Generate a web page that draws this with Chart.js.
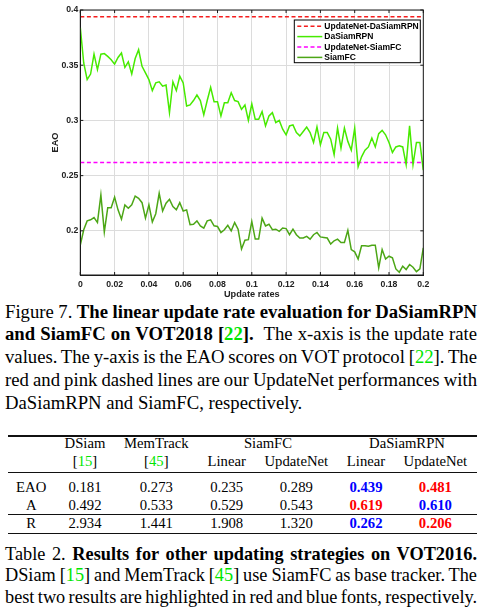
<!DOCTYPE html>
<html>
<head>
<meta charset="utf-8">
<script src="https://cdn.jsdelivr.net/npm/chart.js@4.4.1/dist/chart.umd.min.js"></script>
<style>
  body { margin: 0; background: #fff; }
  #page { position: relative; width: 486px; height: 614px; overflow: hidden; font-family: "Liberation Serif", "Times New Roman", serif; color: #000; }
  #chart { position: absolute; left: 0; top: 0; }
  .cap { position: absolute; left: 5px; width: 472px; }
  #figCap { top: 300.5px; font-size: 18.7px; line-height: 22.9px; }
  #tabCap { top: 544.2px; font-size: 18.3px; line-height: 21.2px; }
  .ln { white-space: nowrap; text-align: left; }
  .cite { color: #00e600; }
  .rule { position: absolute; left: 8.3px; width: 468.4px; height: 1.2px; background: #111; }
  .row { position: absolute; left: 0; width: 486px; height: 16px; font-size: 14.7px; line-height: 16px; }
  .row > span { position: absolute; width: 140px; text-align: center; }
  .red { color: #ff0000; font-weight: bold; }
  .blue { color: #0000ff; font-weight: bold; }
</style>
</head>
<body>
<div id="page">
  <canvas id="chart" width="486" height="300"></canvas>

  <div id="figCap" class="cap">
    <div class="ln">Figure 7. <b>The linear update rate evaluation for DaSiamRPN</b></div>
    <div class="ln"><b>and SiamFC on VOT2018 [<span class="cite">22</span>].</b>&nbsp; The x-axis is the update rate</div>
    <div class="ln">values. The y-axis is the EAO scores on VOT protocol [<span class="cite">22</span>]. The</div>
    <div class="ln">red and pink dashed lines are our UpdateNet performances with</div>
    <div class="ln last">DaSiamRPN and SiamFC, respectively.</div>
  </div>

  <div class="rule" style="top:435.4px"></div>
  <div class="row" style="top:435.3px">
    <span style="left:15px">DSiam</span>
    <span style="left:86.3px">MemTrack</span>
    <span style="left:198px">SiamFC</span>
    <span style="left:337px">DaSiamRPN</span>
  </div>
  <div class="row" style="top:452.7px">
    <span style="left:15px">[<span class="cite">15</span>]</span>
    <span style="left:86.3px">[<span class="cite">45</span>]</span>
    <span style="left:156.7px">Linear</span>
    <span style="left:226.3px">UpdateNet</span>
    <span style="left:296px">Linear</span>
    <span style="left:365.4px">UpdateNet</span>
  </div>
  <div class="rule" style="top:471.9px"></div>
  <div class="row" style="top:478.7px">
    <span style="left:-38.8px">EAO</span>
    <span style="left:15px">0.181</span>
    <span style="left:86.3px">0.273</span>
    <span style="left:156.7px">0.235</span>
    <span style="left:226.3px">0.289</span>
    <span style="left:296px" class="blue">0.439</span>
    <span style="left:365.4px" class="red">0.481</span>
  </div>
  <div class="row" style="top:497px">
    <span style="left:-38.8px">A</span>
    <span style="left:15px">0.492</span>
    <span style="left:86.3px">0.533</span>
    <span style="left:156.7px">0.529</span>
    <span style="left:226.3px">0.543</span>
    <span style="left:296px" class="red">0.619</span>
    <span style="left:365.4px" class="blue">0.610</span>
  </div>
  <div class="rule" style="top:513.9px"></div>
  <div class="row" style="top:515.3px">
    <span style="left:-38.8px">R</span>
    <span style="left:15px">2.934</span>
    <span style="left:86.3px">1.441</span>
    <span style="left:156.7px">1.908</span>
    <span style="left:226.3px">1.320</span>
    <span style="left:296px" class="blue">0.262</span>
    <span style="left:365.4px" class="red">0.206</span>
  </div>
  <div class="rule" style="top:532.7px"></div>

  <div id="tabCap" class="cap">
    <div class="ln">Table 2. <b>Results for other updating strategies on VOT2016.</b></div>
    <div class="ln">DSiam [<span class="cite">15</span>] and MemTrack [<span class="cite">45</span>] use SiamFC as base tracker. The</div>
    <div class="ln">best two results are highlighted in red and blue fonts, respectively.</div>
  </div>
</div>

<script>
// update rates on the x axis (0 .. 0.2)
const rates = [
  0, 0.002, 0.004, 0.006, 0.008, 0.01, 0.012, 0.014, 0.016, 0.018,
  0.02, 0.022, 0.024, 0.026, 0.028, 0.03, 0.032, 0.034, 0.036, 0.038,
  0.04, 0.042, 0.044, 0.046, 0.048, 0.05, 0.052, 0.054, 0.056, 0.058,
  0.06, 0.062, 0.064, 0.066, 0.068, 0.07, 0.072, 0.074, 0.076, 0.078,
  0.08, 0.082, 0.084, 0.086, 0.088, 0.09, 0.092, 0.094, 0.096, 0.098,
  0.1, 0.102, 0.104, 0.106, 0.108, 0.11, 0.112, 0.114, 0.116, 0.118,
  0.12, 0.122, 0.124, 0.126, 0.128, 0.13, 0.132, 0.134, 0.136, 0.138,
  0.14, 0.142, 0.144, 0.146, 0.148, 0.15, 0.152, 0.154, 0.156, 0.158,
  0.16, 0.162, 0.164, 0.166, 0.168, 0.17, 0.172, 0.174, 0.176, 0.178,
  0.18, 0.182, 0.184, 0.186, 0.188, 0.19, 0.192, 0.194, 0.196, 0.198,
  0.2
];

const daSiamRPN = [
  0.384, 0.352, 0.337, 0.342, 0.360, 0.346, 0.360, 0.3605, 0.358, 0.355,
  0.351, 0.357, 0.361, 0.348, 0.353, 0.342, 0.356, 0.364, 0.349, 0.343,
  0.337, 0.327, 0.334, 0.335, 0.331, 0.332, 0.307, 0.335, 0.327, 0.340,
  0.334, 0.313, 0.314, 0.318, 0.323, 0.318, 0.305, 0.318, 0.330, 0.317,
  0.317, 0.304, 0.316, 0.316, 0.325, 0.318, 0.317, 0.310, 0.314, 0.300,
  0.315, 0.301, 0.301, 0.308, 0.295, 0.304, 0.307, 0.298, 0.300, 0.292,
  0.287, 0.295, 0.296, 0.289, 0.286, 0.290, 0.294, 0.289, 0.280, 0.294,
  0.278, 0.289, 0.289, 0.283, 0.269, 0.293, 0.275, 0.293, 0.281, 0.273,
  0.293, 0.258, 0.267, 0.273, 0.276, 0.284, 0.276, 0.288, 0.291, 0.287,
  0.280, 0.271, 0.276, 0.277, 0.276, 0.260, 0.295, 0.260, 0.280, 0.280,
  0.255
];

const siamFC = [
  0.187, 0.201, 0.209, 0.210, 0.212, 0.2075, 0.2325, 0.199, 0.221, 0.221,
  0.2305, 0.219, 0.2105, 0.2235, 0.2205, 0.2235, 0.2315, 0.2295, 0.2255, 0.2115,
  0.2235, 0.208, 0.2155, 0.234, 0.218, 0.225, 0.2285, 0.222, 0.219, 0.2255,
  0.218, 0.219, 0.2055, 0.206, 0.209, 0.2045, 0.2025, 0.209, 0.210, 0.2045,
  0.204, 0.1985, 0.201, 0.205, 0.200, 0.2075, 0.2015, 0.1835, 0.1915, 0.192,
  0.2085, 0.1925, 0.1925, 0.2115, 0.2045, 0.206, 0.201, 0.2015, 0.1995, 0.2025,
  0.202, 0.1965, 0.2015, 0.1965, 0.1935, 0.1935, 0.195, 0.1925, 0.1965, 0.1985,
  0.1945, 0.194, 0.1935, 0.188, 0.191, 0.1925, 0.1895, 0.1895, 0.2005, 0.183,
  0.181, 0.1745, 0.1865, 0.1865, 0.186, 0.187, 0.187, 0.1665, 0.183, 0.1745,
  0.177, 0.1755, 0.1655, 0.1625, 0.168, 0.165, 0.1695, 0.167, 0.163, 0.1655,
  0.1845
];

// UpdateNet results (constant reference lines)
const updateNetDaSiamRPN = 0.394;
const updateNetSiamFC = 0.262;

const seriesLabels = ['UpdateNet-DaSiamRPN', 'DaSiamRPN', 'UpdateNet-SiamFC', 'SiamFC'];
const seriesColors = ['#f51d1d', '#47ea00', '#ff00ff', '#4ca616'];

const axisFont = { family: 'Liberation Sans', weight: 'bold', size: 8.7 };
const titleFont = { family: 'Liberation Sans', weight: 'bold', size: 9.2 };

// stretch / squeeze every caption line to the column width (justified text)
document.querySelectorAll('.ln').forEach(el => {
  if (el.classList.contains('last')) return;
  el.style.display = 'inline-block';
  const w = el.getBoundingClientRect().width;
  el.style.display = 'block';
  const gaps = (el.textContent.match(/[ \u00a0]/g) || []).length;
  if (gaps) el.style.wordSpacing = ((472 - w) / gaps) + 'px';
});

function pts(ys) {
  return rates.map((r, i) => ({ x: r, y: ys[i] }));
}
function flat(v) {
  return [{ x: rates[0], y: v }, { x: rates[rates.length - 1], y: v }];
}
const fmt = v => String(+Number(v).toFixed(3));

// MATLAB-like box with inward ticks
const frame = {
  id: 'frame',
  afterDraw(chart) {
    const { ctx, chartArea: a, scales } = chart;
    ctx.save();
    ctx.strokeStyle = '#1a1a1a';
    ctx.lineWidth = 1;
    ctx.strokeRect(a.left, a.top, a.right - a.left, a.bottom - a.top);
    ctx.beginPath();
    scales.x.ticks.forEach(t => {
      const px = scales.x.getPixelForValue(t.value);
      ctx.moveTo(px, a.bottom); ctx.lineTo(px, a.bottom - 3);
      ctx.moveTo(px, a.top); ctx.lineTo(px, a.top + 3);
    });
    scales.y.ticks.forEach(t => {
      const py = scales.y.getPixelForValue(t.value);
      ctx.moveTo(a.left, py); ctx.lineTo(a.left + 3, py);
      ctx.moveTo(a.right, py); ctx.lineTo(a.right - 3, py);
    });
    ctx.stroke();
    ctx.restore();
  }
};

// boxed legend in the upper right corner
const boxLegend = {
  id: 'boxLegend',
  afterDraw(chart) {
    const { ctx, chartArea: a } = chart;
    const x0 = a.right - 129, y0 = a.top + 10, w = 126, h = 42.7;
    ctx.save();
    ctx.fillStyle = '#fff';
    ctx.fillRect(x0, y0, w, h);
    ctx.strokeStyle = '#000';
    ctx.lineWidth = 1;
    ctx.strokeRect(x0, y0, w, h);
    ctx.font = 'bold 8.5px "Liberation Sans"';
    ctx.textBaseline = 'middle';
    chart.data.datasets.forEach((ds, i) => {
      const y = y0 + 6.2 + i * 10.4;
      ctx.strokeStyle = ds.borderColor;
      ctx.lineWidth = ds.borderWidth;
      ctx.setLineDash(ds.borderDash || []);
      ctx.beginPath();
      ctx.moveTo(x0 + 3, y);
      ctx.lineTo(x0 + 28, y);
      ctx.stroke();
      ctx.setLineDash([]);
      ctx.fillStyle = '#000';
      ctx.fillText(ds.label, x0 + 30, y + 0.5);
    });
    ctx.restore();
  }
};

new Chart(document.getElementById('chart'), {
  type: 'line',
  data: {
    datasets: [
      { label: seriesLabels[0], data: flat(updateNetDaSiamRPN), borderColor: seriesColors[0], borderWidth: 1.5, borderDash: [4, 2.6] },
      { label: seriesLabels[1], data: pts(daSiamRPN), borderColor: seriesColors[1], borderWidth: 1.5 },
      { label: seriesLabels[2], data: flat(updateNetSiamFC), borderColor: seriesColors[2], borderWidth: 1.5, borderDash: [4, 2.6] },
      { label: seriesLabels[3], data: pts(siamFC), borderColor: seriesColors[3], borderWidth: 1.5 }
    ]
  },
  options: {
    responsive: false,
    animation: false,
    layout: { padding: { left: 50, right: 62.7, top: 10, bottom: 0 } },
    elements: { point: { radius: 0 }, line: { tension: 0, fill: false } },
    plugins: { legend: { display: false }, tooltip: { enabled: false } },
    scales: {
      x: {
        type: 'linear', min: 0, max: 0.2,
        ticks: { stepSize: 0.02, callback: fmt, font: axisFont, color: '#222', padding: 4, maxRotation: 0, autoSkip: false },
        grid: { color: '#dcdcdc', drawTicks: false },
        border: { color: '#1a1a1a' },
        title: { display: true, text: 'Update rates', font: titleFont, color: '#222', padding: 0 },
        afterFit(s) { s.height = 25; }
      },
      y: {
        type: 'linear', min: 0.16, max: 0.4,
        ticks: { stepSize: 0.05, callback: fmt, font: axisFont, color: '#222', padding: 2 },
        afterBuildTicks(s) {
          s.ticks = s.ticks.filter(t => Math.abs(t.value * 20 - Math.round(t.value * 20)) < 1e-6);
        },
        grid: { color: '#dcdcdc', drawTicks: false },
        border: { color: '#1a1a1a' },
        title: { display: true, text: 'EAO', font: titleFont, color: '#222', padding: 0 },
        afterFit(s) { s.width = 30.3; }
      }
    }
  },
  plugins: [frame, boxLegend]
});
</script>
</body>
</html>
